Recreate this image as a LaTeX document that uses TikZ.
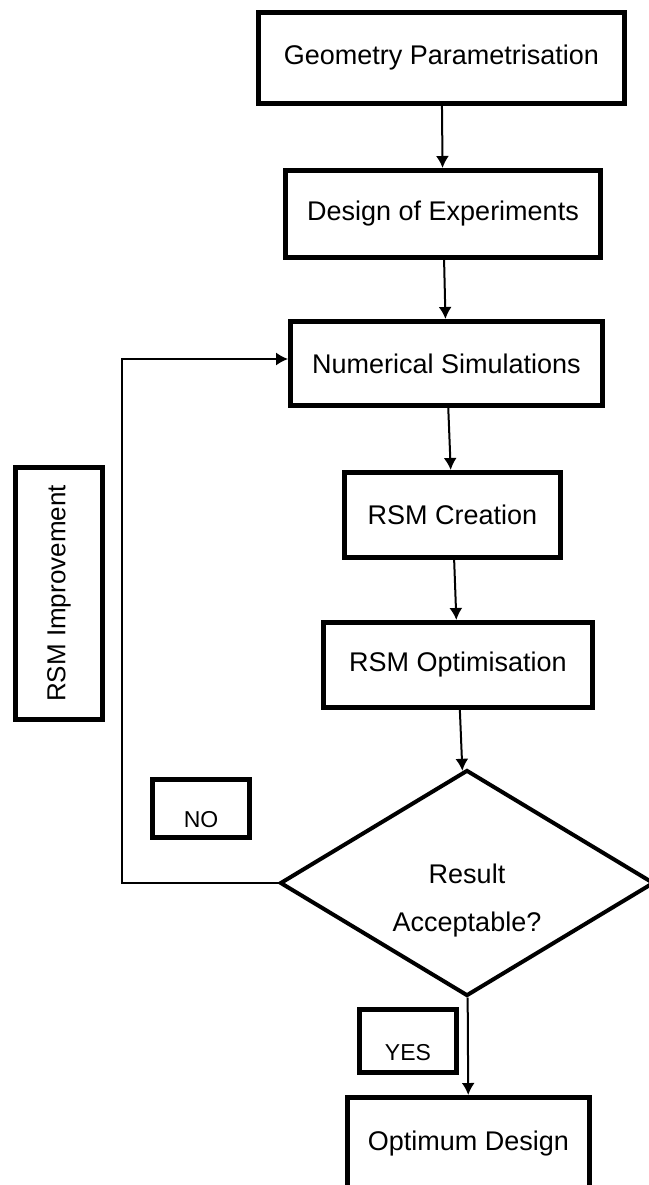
\documentclass[tikz,border=0pt]{standalone}
\usepackage{fontspec}
\setmainfont{Liberation Sans}
\usetikzlibrary{positioning,shapes.geometric,arrows.meta}

\begin{document}
\begin{tikzpicture}[x=1pt, y=-1pt,
    every node/.style = {align=center, font=\fontsize{27}{32}\selectfont},
    stepbox/.style = {shape=rectangle, draw, line width=5pt, inner sep=0pt},
    answer/.style = {stepbox, line width=4.5pt, minimum width=97pt,
      font=\fontsize{23}{28}\selectfont, text height=38pt, text depth=0pt},
    flow/.style = {line width=2pt, -{Latex[length=12pt,width=13pt]}},
    back/.style = {line width=1.5pt, -{Latex[length=12pt,width=13pt]}}]
    \useasboundingbox (0,0) rectangle (648,1185);
    % main chain
    \node[stepbox, minimum width=366pt, minimum height=91pt] (geom) at (441.5,58) {Geometry Parametrisation};
    \node[stepbox, minimum width=315pt, minimum height=87pt] (doe) at (443,214) {Design of Experiments};
    \node[stepbox, minimum width=312pt, minimum height=84pt] (numsim) at (446.5,363.5) {Numerical Simulations};
    \node[stepbox, minimum width=216pt, minimum height=85pt] (rsmcreate) at (452.5,515) {RSM Creation};
    \node[stepbox, minimum width=269pt, minimum height=85pt] (rsmopt) at (458,665) {RSM Optimisation};
    \node[shape=diamond, draw, line width=4pt, aspect=1.6, inner sep=0pt,
      minimum width=374pt, minimum height=226pt,
      font=\fontsize{27}{48}\selectfont, text height=102pt] (accept) at (467,883) {Result\\Acceptable?};
    \node[stepbox, minimum width=242pt, minimum height=92pt] (optimum) at (468.5,1143.5) {Optimum Design};
    % side boxes
    \node[stepbox, rotate=90, minimum width=252pt, minimum height=87pt,
      font=\fontsize{26}{30}\selectfont] (improve) at (59,593.5) {RSM Improvement};
    \node[answer, minimum height=58pt] (no) at (201,808.5) {NO};
    \node[answer, minimum height=63pt] (yes) at (408,1041) {YES};
    % connectors
    \draw[flow] (geom) -- (doe);
    \draw[flow] (doe) -- (numsim);
    \draw[flow] (numsim) -- (rsmcreate);
    \draw[flow] (rsmcreate) -- (rsmopt);
    \draw[flow] (rsmopt) -- (accept);
    \draw[flow] (accept) -- (optimum);
    \draw[back] (accept.west) -- ++(-156,0) |- ([yshift=4.5pt]numsim.west);
\end{tikzpicture}
\end{document}
